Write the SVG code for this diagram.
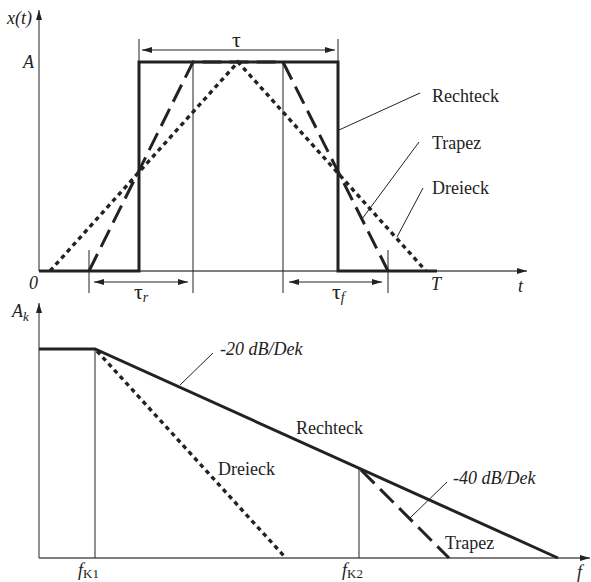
<svg xmlns="http://www.w3.org/2000/svg" width="591" height="582" viewBox="0 0 591 582" font-family="'Liberation Serif', 'DejaVu Serif', serif">
<style>
.ax{stroke:#555;stroke-width:1.3;fill:none}
.thin{stroke:#222;stroke-width:1;fill:none}
.thick{stroke:#222;stroke-width:3;fill:none;stroke-linejoin:miter}
.dash{stroke:#222;stroke-width:3;fill:none;stroke-dasharray:19 8}
.dot{stroke:#222;stroke-width:3.4;fill:none;stroke-dasharray:4.5 4}
text{font-family:'Liberation Serif','DejaVu Serif',serif;font-size:18px;fill:#222}
.it{font-style:italic}
.tau{font-size:22px}
</style>
<defs>
<marker id="ah" markerWidth="10" markerHeight="6" refX="10" refY="3" orient="auto-start-reverse" markerUnits="userSpaceOnUse">
<path d="M0,0 L10,3 L0,6 Z" fill="#222"/>
</marker>
</defs>
<g id="top-axes">
<line class="ax" x1="39" y1="271" x2="39" y2="10" marker-end="url(#ah)"/>
<line class="ax" x1="39" y1="271" x2="527" y2="271" marker-end="url(#ah)"/>
<text class="it" x="7" y="24">x(t)</text>
<text class="it" x="23" y="68">A</text>
<text class="it" x="29" y="289">0</text>
<text class="it" x="431" y="290">T</text>
<text class="it" x="518" y="292">t</text>
</g>
<g id="top-guides">
<line class="thin" x1="139" y1="39" x2="139" y2="62"/>
<line class="thin" x1="338" y1="39" x2="338" y2="62"/>
<line class="thin" x1="89" y1="250" x2="89" y2="293"/>
<line class="thin" x1="193" y1="62" x2="193" y2="293"/>
<line class="thin" x1="283" y1="62" x2="283" y2="293"/>
<line class="thin" x1="388" y1="250" x2="388" y2="293"/>
<line class="thin" x1="142" y1="50" x2="335" y2="50" marker-start="url(#ah)" marker-end="url(#ah)"/>
<line class="thin" x1="94" y1="282" x2="188" y2="282" marker-start="url(#ah)" marker-end="url(#ah)"/>
<line class="thin" x1="289" y1="282" x2="382" y2="282" marker-start="url(#ah)" marker-end="url(#ah)"/>
<text class="tau" x="232" y="47">τ</text>
<text class="tau" x="134" y="299">τ<tspan class="it" font-size="14" dy="3">r</tspan></text>
<text class="tau" x="332" y="299">τ<tspan class="it" font-size="14" dy="3">f</tspan></text>
</g>
<g id="rechteck-t">
<polyline class="thick" points="39,271 139,271 139,62 338,62 338,271 437,271"/>
</g>
<g id="trapez-t">
<polyline class="dash" points="89,271 193,62 283,62 388,271"/>
</g>
<g id="dreieck-t">
<polyline class="dot" points="50,271 238,62 426,271"/>
</g>
<g id="top-labels">
<line class="thin" x1="339" y1="130" x2="420" y2="93"/>
<line class="thin" x1="362" y1="219" x2="419" y2="142"/>
<line class="thin" x1="397" y1="237" x2="423" y2="188"/>
<text x="432" y="102">Rechteck</text>
<text x="432" y="149">Trapez</text>
<text x="432" y="194">Dreieck</text>
</g>
<g id="bottom-axes">
<line class="ax" x1="39" y1="558" x2="39" y2="303" marker-end="url(#ah)"/>
<line class="ax" x1="39" y1="558" x2="590" y2="558" marker-end="url(#ah)"/>
<text class="it" x="12" y="317">A<tspan font-size="13" dy="4">k</tspan></text>
<text x="78" y="576"><tspan class="it">f</tspan><tspan font-size="13" dy="2">K1</tspan></text>
<text x="342" y="576"><tspan class="it">f</tspan><tspan font-size="13" dy="2">K2</tspan></text>
<text class="it" x="577" y="578">f</text>
</g>
<g id="bottom-guides">
<line class="thin" x1="95" y1="349" x2="95" y2="558"/>
<line class="thin" x1="359" y1="468" x2="359" y2="558"/>
</g>
<g id="rechteck-f">
<polyline class="thick" points="39,349 95,349 558,558"/>
</g>
<g id="dreieck-f">
<line class="dot" x1="97" y1="351" x2="284" y2="556"/>
</g>
<g id="trapez-f">
<line class="dash" x1="361" y1="470" x2="449" y2="558"/>
</g>
<g id="bottom-labels">
<line class="thin" x1="180" y1="385" x2="213" y2="353"/>
<line class="thin" x1="410" y1="518" x2="447" y2="482"/>
<text class="it" x="220" y="355">-20 dB/Dek</text>
<text x="296" y="434">Rechteck</text>
<text x="218" y="475">Dreieck</text>
<text class="it" x="453" y="484">-40 dB/Dek</text>
<text x="445" y="549">Trapez</text>
</g>
</svg>
